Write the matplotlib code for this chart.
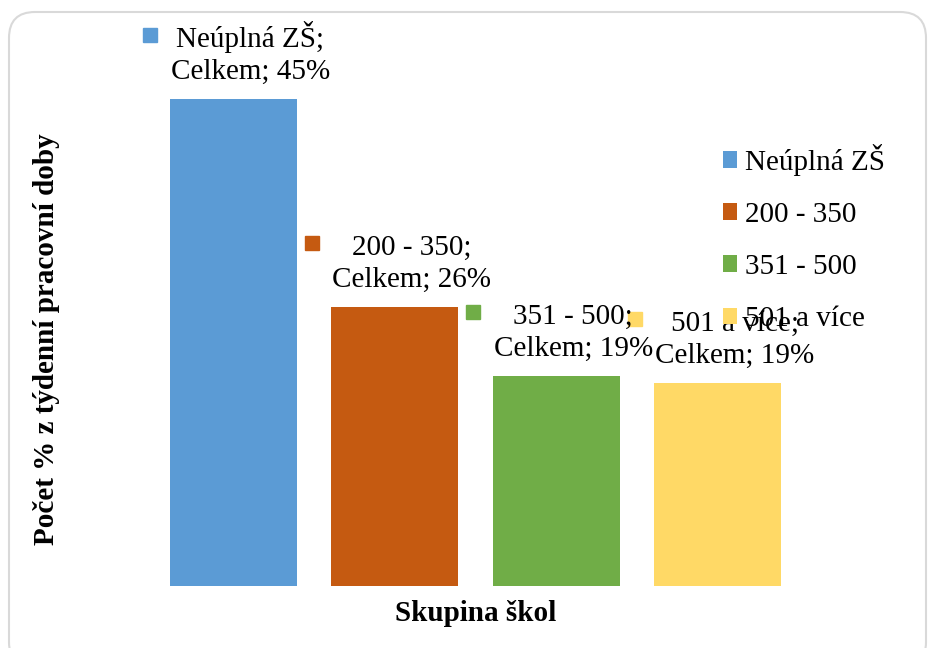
import matplotlib
matplotlib.use("Agg")
import matplotlib.pyplot as plt
from matplotlib.patches import FancyBboxPatch
from matplotlib.transforms import IdentityTransform, ScaledTranslation

# data
skupiny = ["Neúplná ZŠ", "200 - 350", "351 - 500", "501 a více"]
celkem = [45.0, 25.8, 19.4, 18.8]
barvy = ["#5B9BD5", "#C55A11", "#70AD47", "#FFD966"]

plt.rcParams['font.family'] = ['Liberation Serif', 'DejaVu Serif']
fs = 21

fig = plt.figure(figsize=(9.31, 6.48), dpi=100)
W, H = 931, 648
# axes in pixels: left 153, right 798, bottom 62, top 603 (from bottom)
ax = fig.add_axes([152.8 / W, 62 / H, (798.2 - 152.8) / W, (603 - 62) / H])

# rounded chart border
fig.patches.append(FancyBboxPatch((9, -20), 917, 656,
                                  boxstyle="round,pad=0,rounding_size=26",
                                  transform=IdentityTransform(), fill=False,
                                  edgecolor="#d9d9d9", linewidth=1.5))

x = range(len(skupiny))
bars = ax.bar(x, celkem, width=0.786, color=barvy, label=skupiny)

# data labels with legend key
key_off = ScaledTranslation(-83 / 100, 64 / 100, fig.dpi_scale_trans)
for i, v in enumerate(celkem):
    ax.annotate(skupiny[i] + ";", (i, v), xytext=(17, 52), textcoords='offset pixels',
                ha='center', va='baseline', fontsize=fs)
    ax.annotate("Celkem; %.0f%%" % v, (i, v), xytext=(17, 20), textcoords='offset pixels',
                ha='center', va='baseline', fontsize=fs)
    ax.plot([i], [v], marker='s', markersize=10.5, color=barvy[i], linestyle='none',
            transform=ax.transData + key_off, clip_on=False)

ax.set_xlim(-0.5, 3.5)
ax.set_ylim(0, 50)
for s in ax.spines.values():
    s.set_visible(False)
ax.set_xticks([])
ax.set_yticks([])

ax.set_xlabel("Skupina škol", fontsize=fs, fontweight='bold', labelpad=10)
fig.text(47 / W, 1 - 339 / H, "Počet % z týdenní pracovní doby", rotation=90,
         ha='center', va='center', fontsize=fs, fontweight='bold')

leg = ax.legend(handles=bars, labels=skupiny, loc='upper left', frameon=False,
                bbox_to_anchor=(708 / W, 1 - 129 / H), bbox_transform=fig.transFigure,
                fontsize=fs, handlelength=0.5, handleheight=0.5, handletextpad=0.28,
                labelspacing=0.9, borderpad=0)

fig.savefig("out.png", dpi=100)
